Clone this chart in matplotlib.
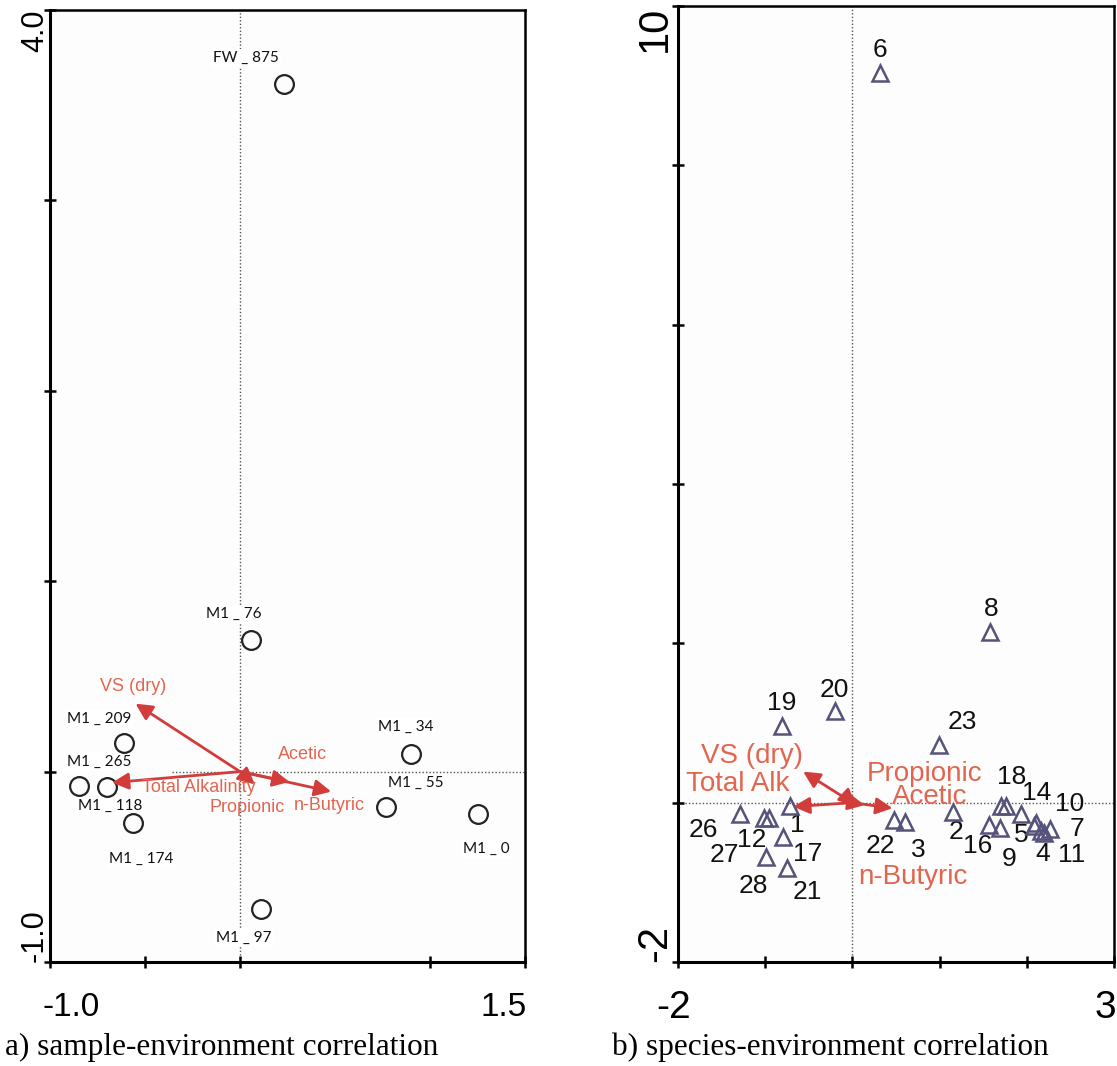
import matplotlib
matplotlib.use("Agg")
import matplotlib.pyplot as plt
from matplotlib import font_manager

# ordination scores, panel a: samples (axis 1, axis 2)
sample_names = ["FW _ 875", "M1 _ 76", "M1 _ 209", "M1 _ 265", "M1 _ 118",
                "M1 _ 174", "M1 _ 97", "M1 _ 34", "M1 _ 55", "M1 _ 0"]
sample_x = [0.23, 0.056, -0.61, -0.846, -0.70, -0.565, 0.109, 0.90, 0.766, 1.252]
sample_y = [3.61, 0.69, 0.152, -0.075, -0.08, -0.27, -0.72, 0.095, -0.184, -0.224]

# environmental variables, panel a
env_a_names = ["VS (dry)", "Total Alkalinity", "Propionic", "Acetic", "n-Butyric"]
env_a_x = [-0.55, -0.674, 0.078, 0.26, 0.48]
env_a_y = [0.357, -0.058, -0.067, -0.054, -0.105]

# species scores, panel b
species_ids = ["1", "2", "3", "4", "5", "6", "7", "8", "9", "10", "11", "12",
               "14", "15", "16", "17", "18", "19", "20", "21", "22", "23",
               "26", "27", "28"]
species_x = [-0.716, 1.159, 0.602, 2.163, 2.080, 0.318, 2.269, 1.580, 1.690,
             2.106, 2.200, -1.011, 1.932, 1.758, 1.568, -0.799, 1.701, -0.810,
             -0.205, -0.753, 0.477, 0.989, -1.284, -0.955, -0.989]
species_y = [-0.038, -0.122, -0.248, -0.361, -0.290, 9.157, -0.331, 2.138,
             -0.318, -0.255, -0.377, -0.192, -0.138, -0.038, -0.285, -0.431,
             -0.038, 0.960, 1.148, -0.821, -0.214, 0.730, -0.138, -0.192,
             -0.683]

# environmental variables, panel b
env_b_names = ["VS (dry)", "Total Alk", "Propionic", "Acetic", "n-Butyric"]
env_b_x = [-0.565, -0.68, 0.04, 0.14, 0.46]
env_b_y = [0.39, -0.05, -0.04, -0.03, -0.07]

# label placement (offsets in points from the marker)
sample_offsets = {
    "FW _ 875": (-27, 19), "M1 _ 76": (-12, 19), "M1 _ 209": (-18, 17),
    "M1 _ 265": (14, 17), "M1 _ 118": (2, -14), "M1 _ 174": (6, -26),
    "M1 _ 97": (-12, -21), "M1 _ 34": (-4, 19), "M1 _ 55": (22, 17),
    "M1 _ 0": (6, -25),
}
species_offsets = {
    "1": (5, -14), "2": (2, -14), "3": (10, -20), "4": (1, -16),
    "5": (-9, -7), "6": (0, 17), "7": (19, 0), "8": (1, 17), "9": (7, -22),
    "10": (24, 14), "11": (20, -16), "12": (-9, -16), "14": (11, 15),
    "15": None, "16": (-8, -15), "17": (18, -12), "18": (8, 21),
    "19": (0, 17), "20": (0, 15), "21": (15, -17), "22": (-10, -19),
    "23": (17, 16), "26": (-27, -12), "27": (-32, -27), "28": (-9, -21),
}
env_a_text = {"VS (dry)": (-0.565, 0.445), "Total Alkalinity": (-0.215, -0.084),
              "Propionic": (0.04, -0.19), "Acetic": (0.33, 0.088),
              "n-Butyric": (0.47, -0.18)}
env_b_text = {"VS (dry)": (-1.15, 0.59), "Total Alk": (-1.32, 0.23),
              "Propionic": (0.83, 0.36), "Acetic": (0.89, 0.07),
              "n-Butyric": (0.69, -0.93)}

ARROW = "#d23c3a"
ARROW_TXT = "#e2664f"
DOT = "#555555"
TRI = "#56537a"

names = {f.name for f in font_manager.fontManager.ttflist}
narrow = "Liberation Sans Narrow" if "Liberation Sans Narrow" in names else "Liberation Sans"
plt.rcParams["font.family"] = ["Liberation Sans", "DejaVu Sans"]

fig = plt.figure(figsize=(11.17, 10.66), dpi=100)
ax1 = fig.add_axes([50 / 1117, 1 - 962 / 1066, 475 / 1117, 952 / 1066])
ax2 = fig.add_axes([678 / 1117, 1 - 962 / 1066, 436 / 1117, 956 / 1066])


def style_axes(ax):
    ax.set_facecolor("#fdfdfd")
    for side in ["left", "bottom"]:
        ax.spines[side].set_linewidth(2.2)
    for side in ["top", "right"]:
        ax.spines[side].set_linewidth(1.8)
    ax.tick_params(direction="inout", length=9, width=1.8, labelleft=False,
                   labelbottom=False)


def draw_arrows(ax, xs, ys):
    for x, y in zip(xs, ys):
        ax.annotate("", xy=(x, y), xytext=(0, 0), zorder=5,
                    arrowprops=dict(arrowstyle="-|>", color=ARROW, lw=2,
                                    mutation_scale=25, shrinkA=0, shrinkB=0))


# ---- panel a: sample-environment ----
ax1.set_xlim(-1.0, 1.5)
ax1.set_ylim(-1.0, 4.0)
ax1.set_xticks([-1.0, -0.5, 0.0, 1.0, 1.5])
ax1.set_yticks([-1, 0, 1, 2, 3, 4])
style_axes(ax1)
ax1.axvline(0, color=DOT, lw=1, ls=(0, (1, 1.5)), zorder=1)
ax1.axhline(0, xmin=(-0.36 + 1.0) / 2.5, xmax=1, color=DOT, lw=1,
            ls=(0, (1, 1.5)), zorder=1)

ax1.plot(sample_x, sample_y, "o", ms=13.5, mfc="none", mec="#222222",
         mew=1.6, zorder=4)
for name, x, y in zip(sample_names, sample_x, sample_y):
    ax1.annotate(name, (x, y), xytext=sample_offsets[name],
                 textcoords="offset points", ha="center", va="center",
                 fontsize=11, family=["Lato", "DejaVu Sans"], color="#111111",
                 zorder=3, bbox=dict(fc="white", ec="none", pad=1.5))

draw_arrows(ax1, env_a_x, env_a_y)
for name in env_a_names:
    tx, ty = env_a_text[name]
    ax1.text(tx, ty, name, ha="center", va="center", fontsize=13,
             color=ARROW_TXT, zorder=6)

ax1.text(-0.032, 4.0, "4.0", transform=ax1.get_yaxis_transform(),
         rotation=90, ha="center", va="top", fontsize=22)
ax1.text(-0.032, -1.0, "-1.0", transform=ax1.get_yaxis_transform(),
         rotation=90, ha="center", va="bottom", fontsize=22)
ax1.text(-1.04, -0.048, "-1.0", transform=ax1.get_xaxis_transform(),
         ha="left", va="center", fontsize=24, family=narrow)
ax1.text(1.51, -0.048, "1.5", transform=ax1.get_xaxis_transform(),
         ha="right", va="center", fontsize=24, family=narrow)

# ---- panel b: species-environment ----
ax2.set_xlim(-2, 3)
ax2.set_ylim(-2, 10)
ax2.set_xticks([-2, -1, 0, 1, 2, 3])
ax2.set_yticks([-2, 0, 2, 4, 6, 8, 10])
style_axes(ax2)
ax2.axvline(0, color=DOT, lw=1, ls=(0, (1, 1.5)), zorder=1)
ax2.axhline(0, color=DOT, lw=1, ls=(0, (1, 1.5)), zorder=1)

ax2.plot(species_x, species_y, "^", ms=12, mfc="none", mec=TRI, mew=1.8,
         zorder=4)
for sid, x, y in zip(species_ids, species_x, species_y):
    off = species_offsets[sid]
    if off is None:
        continue
    ax2.annotate(sid, (x, y), xytext=off, textcoords="offset points",
                 ha="center", va="center", fontsize=19, color="#111111",
                 zorder=3)

draw_arrows(ax2, env_b_x, env_b_y)
for name in env_b_names:
    tx, ty = env_b_text[name]
    ax2.text(tx, ty, name, ha="center", va="center", fontsize=20,
             color=ARROW_TXT, zorder=6)

ax2.text(-0.053, 10, "10", transform=ax2.get_yaxis_transform(),
         rotation=90, ha="center", va="top", fontsize=30)
ax2.text(-0.053, -2, "-2", transform=ax2.get_yaxis_transform(),
         rotation=90, ha="center", va="bottom", fontsize=30)
ax2.text(-2.25, -0.048, "-2", transform=ax2.get_xaxis_transform(),
         ha="left", va="center", fontsize=28)
ax2.text(3.03, -0.048, "3", transform=ax2.get_xaxis_transform(),
         ha="right", va="center", fontsize=28)

fig.text(5 / 1117, 1 - 1055 / 1066, "a) sample-environment correlation",
         ha="left", va="baseline", fontsize=22.5, family="Liberation Serif")
fig.text(612 / 1117, 1 - 1055 / 1066, "b) species-environment correlation",
         ha="left", va="baseline", fontsize=22.5, family="Liberation Serif")

fig.savefig("out.png", dpi=100, facecolor="white")
